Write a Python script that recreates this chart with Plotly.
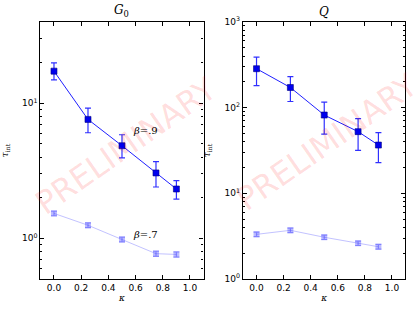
import numpy as np
import plotly.graph_objects as go

kappa = [0.0, 0.25, 0.5, 0.75, 0.9]

# G0 panel
g0_b9 = [17.3, 7.6, 4.85, 3.05, 2.32]
g0_b9_up = [19.9, 9.2, 5.85, 3.7, 2.68]
g0_b9_lo = [14.9, 6.05, 3.95, 2.4, 1.95]
g0_b7 = [1.53, 1.25, 0.98, 0.77, 0.76]
g0_b7_err = [0.06, 0.05, 0.04, 0.035, 0.035]

# Q panel
q_b9 = [285, 172, 82, 52.5, 36.6]
q_b9_up = [390, 230, 116, 74.5, 51]
q_b9_lo = [181, 118, 49, 31.8, 22.8]
q_b7 = [3.32, 3.7, 3.07, 2.61, 2.38]
q_b7_err = [0.2, 0.22, 0.18, 0.15, 0.15]

titles = ["<i>G</i><sub>0</sub>", "<i>Q</i>"]
xticks = [0.0, 0.2, 0.4, 0.6, 0.8, 1.0]

fig = go.Figure()

def add_series(xa, ya, y9, up, lo, y7, e7):
    fig.add_trace(go.Scatter(
        x=kappa, y=y9, xaxis=xa, yaxis=ya, mode="lines+markers",
        line=dict(color="#2020ff", width=1),
        marker=dict(symbol="square", size=6, color="#0000ee", line=dict(color="#000080", width=0.6)),
        error_y=dict(type="data", symmetric=False,
                     array=[u - v for u, v in zip(up, y9)],
                     arrayminus=[v - l for v, l in zip(y9, lo)],
                     color="#3030ff", thickness=1.2, width=3),
        showlegend=False))
    fig.add_trace(go.Scatter(
        x=kappa, y=y7, xaxis=xa, yaxis=ya, mode="lines+markers",
        line=dict(color="rgba(80,80,255,0.35)", width=1),
        marker=dict(symbol="square", size=6, color="rgba(60,60,255,0.35)", line=dict(width=0)),
        error_y=dict(type="data", array=e7, color="rgba(60,60,255,0.45)", thickness=1.2, width=3),
        showlegend=False))

add_series("x", "y", g0_b9, g0_b9_up, g0_b9_lo, g0_b7, g0_b7_err)
add_series("x2", "y2", q_b9, q_b9_up, q_b9_lo, q_b7, q_b7_err)

tickfont = dict(family="DejaVu Sans", size=9, color="black")
labfont = dict(family="DejaVu Serif", size=9, color="black")

def minor_vals(lo_exp, hi_exp):
    vals = []
    for e in range(lo_exp, hi_exp + 1):
        for m in range(2, 10):
            vals.append(m * 10 ** e)
    return vals

xcommon = dict(range=[-0.1, 1.1], tickvals=xticks, ticktext=[f"{v:.1f}" for v in xticks],
               ticks="inside", ticklen=4, tickcolor="black", mirror="allticks",
               showline=True, linecolor="black", linewidth=1.2, showgrid=False,
               zeroline=False, tickfont=tickfont, automargin=False,
               title=dict(text="<i>κ</i>", font=labfont, standoff=2))

ycommon = dict(type="log", ticks="inside", ticklen=4, tickcolor="black", mirror="allticks",
               showline=True, linecolor="black", linewidth=1.2, showgrid=False,
               tickfont=tickfont, automargin=False)

fig.update_layout(
    width=415, height=312, margin=dict(l=0, r=0, t=0, b=0, autoexpand=False),
    paper_bgcolor="white", plot_bgcolor="white",
    xaxis=dict(domain=[0.0973, 0.4906], anchor="y", **xcommon),
    xaxis2=dict(domain=[0.5855, 0.9771], anchor="y2", **xcommon),
    yaxis=dict(domain=[0.1058, 0.9295], anchor="x",
               range=[np.log10(0.5), np.log10(40)],
               tickvals=[1, 10], ticktext=["10<sup>0</sup>", "10<sup>1</sup>"],
               minor=dict(tickvals=minor_vals(-1, 1), ticks="inside", ticklen=2, tickcolor="black"),
               title=dict(text="<i>τ</i><sub>int</sub>", font=labfont, standoff=13),
               **ycommon),
    yaxis2=dict(domain=[0.1058, 0.9295], anchor="x2",
                range=[0, 3],
                tickvals=[1, 10, 100, 1000],
                ticktext=["10<sup>0</sup>", "10<sup>1</sup>", "10<sup>2</sup>", "10<sup>3</sup>"],
                minor=dict(tickvals=minor_vals(0, 2), ticks="inside", ticklen=2, tickcolor="black"),
                title=dict(text="<i>τ</i><sub>int</sub>", font=labfont, standoff=12),
                **ycommon),
)

annotations = []
wm_pos = [(0.303, 0.532), (0.788, 0.545)]
for i, (dom, t) in enumerate([((0.0973, 0.4906), titles[0]), ((0.5855, 0.9771), titles[1])]):
    annotations.append(dict(text=t, x=(dom[0] + dom[1]) / 2, y=0.933, xref="paper", yref="paper",
                            xanchor="center", yanchor="bottom", showarrow=False,
                            font=dict(family="DejaVu Serif", size=12, color="black")))
    annotations.append(dict(text="PRELIMINARY", x=wm_pos[i][0], y=wm_pos[i][1],
                            xref="paper", yref="paper", xanchor="center", yanchor="middle",
                            showarrow=False, textangle=-35,
                            font=dict(family="DejaVu Sans", size=32, color="rgba(255,0,0,0.14)")))

annotations.append(dict(text="<i>β</i>=.9", x=0.67, y=np.log10(6.3), xref="x", yref="y",
                        showarrow=False, font=dict(family="DejaVu Serif", size=10, color="black")))
annotations.append(dict(text="<i>β</i>=.7", x=0.67, y=np.log10(1.06), xref="x", yref="y",
                        showarrow=False, font=dict(family="DejaVu Serif", size=10, color="black")))
fig.update_layout(annotations=annotations)

fig.write_html("out.html", config={"displayModeBar": False},
               post_script="document.body.style.margin='0';document.body.style.overflow='hidden';")
